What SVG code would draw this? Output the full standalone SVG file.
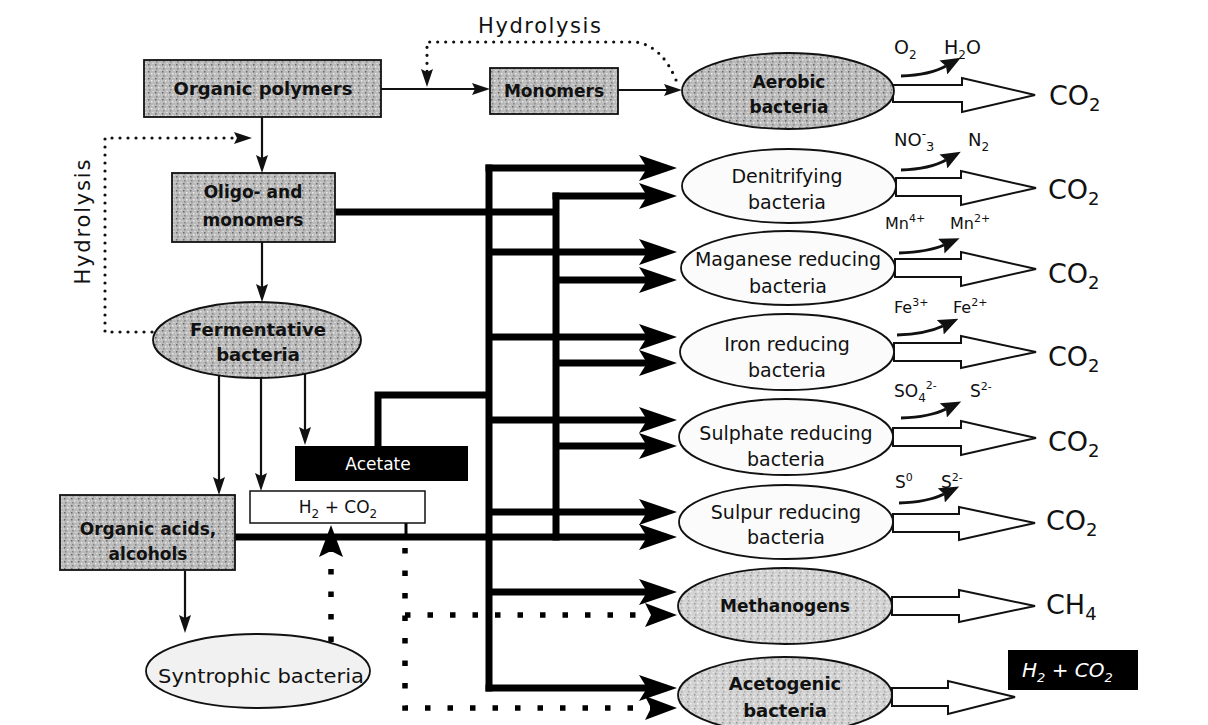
<svg xmlns="http://www.w3.org/2000/svg" width="1208" height="725" viewBox="0 0 1208 725">
<style>
text{font-family:"DejaVu Sans","Liberation Sans",sans-serif;fill:#111}
.b{font-weight:bold}
.c{text-anchor:middle}
.node{stroke:#111;stroke-width:1.8}
.thin{fill:none;stroke:#111;stroke-width:2.2}
.bus{fill:none;stroke:#000;stroke-width:7}
.busv{fill:none;stroke:#000;stroke-width:7;stroke-linecap:square}
.dots{fill:none;stroke:#111;stroke-width:3.2;stroke-linecap:round;stroke-dasharray:0 8}
.sq{fill:none;stroke:#000;stroke-width:5.5;stroke-dasharray:5.5 17}
.hollow{fill:#fff;stroke:#111;stroke-width:2}
.curl{fill:none;stroke:#111;stroke-width:3}
</style>
<defs>
<pattern id="gD" width="7" height="7" patternUnits="userSpaceOnUse">
<rect width="7" height="7" fill="#bababa"/>
<rect x="1" y="1" width="1.5" height="1.5" fill="#6a6a6a"/>
<rect x="4" y="3" width="1.5" height="1.5" fill="#ededed"/>
<rect x="2" y="5" width="1.5" height="1.5" fill="#858585"/>
<rect x="5.5" y="0" width="1" height="1" fill="#f4f4f4"/>
<rect x="0" y="3.5" width="1" height="1" fill="#e0e0e0"/>
</pattern>
<pattern id="gL" width="7" height="7" patternUnits="userSpaceOnUse">
<rect width="7" height="7" fill="#d2d2d2"/>
<rect x="1" y="1" width="1.5" height="1.5" fill="#969696"/>
<rect x="4" y="3" width="1.5" height="1.5" fill="#f4f4f4"/>
<rect x="2" y="5" width="1.5" height="1.5" fill="#adadad"/>
<rect x="5.5" y="0" width="1" height="1" fill="#fafafa"/>
</pattern>
<marker id="ah" viewBox="0 0 18 12" refX="3" refY="6" markerWidth="18" markerHeight="12" markerUnits="userSpaceOnUse" orient="auto"><path d="M0,0 L18,6 L0,12 L3,6 z" fill="#111"/></marker>
<marker id="big" viewBox="0 0 38 26" refX="8" refY="13" markerWidth="38" markerHeight="26" markerUnits="userSpaceOnUse" orient="auto"><path d="M0,0 L38,13 L0,26 L8,13 z" fill="#000"/></marker>
<marker id="dh" viewBox="0 0 32 24" refX="6" refY="12" markerWidth="32" markerHeight="24" markerUnits="userSpaceOnUse" orient="auto"><path d="M0,0 L32,12 L0,24 L6,12 z" fill="#000"/></marker>
<marker id="ch" viewBox="0 0 20 16" refX="3" refY="8" markerWidth="20" markerHeight="16" markerUnits="userSpaceOnUse" orient="auto"><path d="M0,0 L20,8 L0,16 L3,8 z" fill="#111"/></marker>
</defs>
<rect width="1208" height="725" fill="#fff"/>

<g id="connectors">
<path class="thin" d="M381,89 H475" marker-end="url(#ah)"/>
<path class="thin" d="M618,90 H667" marker-end="url(#ah)"/>
<path class="thin" d="M262,117 V158" marker-end="url(#ah)"/>
<path class="thin" d="M262,242 V287" marker-end="url(#ah)"/>
<path class="thin" d="M219,376 V480" marker-end="url(#ah)"/>
<path class="thin" d="M261,378 V476" marker-end="url(#ah)"/>
<path class="thin" d="M305,373 V430" marker-end="url(#ah)"/>
<path class="thin" d="M185,571 V618" marker-end="url(#ah)"/>
<path class="dots" d="M676,80 Q662,46 636,42 H427 V72" marker-end="url(#ah)"/>
<path class="dots" d="M152,332 H105 V138 H237" marker-end="url(#ah)"/>
<path class="bus" d="M335,212 H556"/>
<path class="busv" d="M489,168 V688"/>
<path class="busv" d="M556,196 V537"/>
<path class="bus" d="M378,447 V395 H489" stroke-linejoin="miter"/>
<path class="bus" d="M485.5,168 H647" marker-end="url(#big)"/>
<path class="bus" d="M489,252 H647" marker-end="url(#big)"/>
<path class="bus" d="M489,337 H647" marker-end="url(#big)"/>
<path class="bus" d="M489,420 H647" marker-end="url(#big)"/>
<path class="bus" d="M489,512 H647" marker-end="url(#big)"/>
<path class="bus" d="M489,592 H647" marker-end="url(#big)"/>
<path class="bus" d="M485.5,688 H647" marker-end="url(#big)"/>
<path class="bus" d="M552.5,196 H647" marker-end="url(#big)"/>
<path class="bus" d="M556,280 H647" marker-end="url(#big)"/>
<path class="bus" d="M556,363 H647" marker-end="url(#big)"/>
<path class="bus" d="M556,446 H647" marker-end="url(#big)"/>
<path class="bus" d="M234,537 H647" marker-end="url(#big)"/>
<path fill="none" stroke="#000" stroke-width="3" d="M406,523 V537"/>
<path class="sq" d="M405,548 V708 H651" marker-end="url(#dh)"/>
<path class="sq" d="M405,615 H651" marker-end="url(#dh)"/>
<path class="sq" d="M331,642 V551" marker-end="url(#dh)"/>
<polygon class="hollow" points="893,85 962,85 962,78 1035,95 962,112 962,102 893,102"/>
<polygon class="hollow" points="896,178 961,178 961,171 1036,188 961,205 961,196 896,196"/>
<polygon class="hollow" points="895,259 961,259 961,252 1036,269 961,286 961,277 895,277"/>
<polygon class="hollow" points="894,343 961,343 961,336 1036,352 961,368 961,361 894,361"/>
<polygon class="hollow" points="893,428 961,428 961,421 1036,438 961,455 961,446 893,446"/>
<polygon class="hollow" points="893,514 959,514 959,507 1035,523 959,540 959,532 893,532"/>
<polygon class="hollow" points="892,597 959,597 959,590 1035,606 959,622 959,615 892,615"/>
<polygon class="hollow" points="892,688 948,688 948,681 1015,697 948,714 948,706 892,706"/>
<path class="curl" d="M901,76 Q930,75 946,66" marker-end="url(#ch)"/>
<path class="curl" d="M901,170 Q930,169 946,160" marker-end="url(#ch)"/>
<path class="curl" d="M899,253 Q928,252 944,245" marker-end="url(#ch)"/>
<path class="curl" d="M897,335 Q926,334 943,326" marker-end="url(#ch)"/>
<path class="curl" d="M901,418 Q930,417 946,409" marker-end="url(#ch)"/>
<path class="curl" d="M899,503 Q928,502 944,494" marker-end="url(#ch)"/>
</g>

<g id="hydrolysis-top"><text x="478" y="33" font-size="21" textLength="123" lengthAdjust="spacing">Hydrolysis</text></g>
<g id="hydrolysis-left"><text transform="translate(90,222) rotate(-90)" class="c" font-size="21" textLength="125" lengthAdjust="spacing">Hydrolysis</text></g>

<g id="organic-polymers">
<rect class="node" x="144" y="60" width="237" height="57" fill="url(#gD)"/>
<text class="b c" x="263" y="95" font-size="18">Organic polymers</text>
</g>
<g id="monomers">
<rect class="node" x="490" y="68" width="128" height="46" fill="url(#gD)"/>
<text class="b c" x="554" y="97" font-size="17">Monomers</text>
</g>
<g id="oligo">
<rect class="node" x="172" y="173" width="163" height="69" fill="url(#gD)"/>
<text class="b c" x="253" y="198" font-size="17">Oligo- and</text>
<text class="b c" x="253" y="226" font-size="17">monomers</text>
</g>
<g id="fermentative">
<ellipse class="node" cx="257" cy="340" rx="104" ry="38" fill="url(#gD)"/>
<text class="b c" x="258" y="336" font-size="18">Fermentative</text>
<text class="b c" x="258" y="361" font-size="18">bacteria</text>
</g>
<g id="acetate">
<rect x="295" y="446" width="173" height="35" fill="#000"/>
<text class="c" x="378" y="470" font-size="17" style="fill:#fff">Acetate</text>
</g>
<g id="h2co2">
<rect x="250" y="491" width="175" height="32" fill="#fff" stroke="#111" stroke-width="1.5"/>
<text class="c" x="338" y="513" font-size="17">H<tspan font-size="12" dy="5">2</tspan><tspan dy="-5"> + CO</tspan><tspan font-size="12" dy="5">2</tspan></text>
</g>
<g id="organic-acids">
<rect class="node" x="60" y="495" width="175" height="75" fill="url(#gD)"/>
<text class="b c" x="148" y="535" font-size="17">Organic acids,</text>
<text class="b c" x="148" y="560" font-size="17">alcohols</text>
</g>
<g id="syntrophic">
<ellipse class="node" cx="258" cy="671" rx="112" ry="37" fill="#f1f1f1"/>
<text class="c" x="261" y="683" font-size="20" textLength="206" lengthAdjust="spacingAndGlyphs">Syntrophic bacteria</text>
</g>

<g id="aerobic">
<ellipse class="node" cx="788" cy="91" rx="106" ry="38" fill="url(#gD)"/>
<text class="b c" x="789" y="88" font-size="17">Aerobic</text>
<text class="b c" x="789" y="113" font-size="17">bacteria</text>
</g>
<g id="denitrifying">
<ellipse class="node" cx="789" cy="186" rx="107" ry="37" fill="#fbfbfb"/>
<text class="c" x="787" y="183" font-size="19">Denitrifying</text>
<text class="c" x="787" y="209" font-size="19">bacteria</text>
</g>
<g id="manganese">
<ellipse class="node" cx="788" cy="268" rx="107" ry="37" fill="#fbfbfb"/>
<text class="c" x="788" y="266" font-size="19">Maganese reducing</text>
<text class="c" x="788" y="293" font-size="19">bacteria</text>
</g>
<g id="iron">
<ellipse class="node" cx="787" cy="352" rx="107" ry="38" fill="#fbfbfb"/>
<text class="c" x="787" y="351" font-size="19">Iron reducing</text>
<text class="c" x="787" y="377" font-size="19">bacteria</text>
</g>
<g id="sulphate">
<ellipse class="node" cx="786" cy="437" rx="107" ry="38" fill="#fbfbfb"/>
<text class="c" x="786" y="440" font-size="19">Sulphate reducing</text>
<text class="c" x="786" y="466" font-size="19">bacteria</text>
</g>
<g id="sulphur">
<ellipse class="node" cx="786" cy="522" rx="107" ry="37" fill="#fbfbfb"/>
<text class="c" x="786" y="519" font-size="19">Sulpur reducing</text>
<text class="c" x="786" y="544" font-size="19">bacteria</text>
</g>
<g id="methanogens">
<ellipse class="node" cx="785" cy="606" rx="107" ry="38" fill="url(#gL)"/>
<text class="b c" x="785" y="612" font-size="17">Methanogens</text>
</g>
<g id="acetogenic">
<ellipse class="node" cx="785" cy="695" rx="107" ry="38" fill="url(#gL)"/>
<text class="b c" x="785" y="690" font-size="18">Acetogenic</text>
<text class="b c" x="785" y="717" font-size="18">bacteria</text>
</g>

<g id="labels">
<text x="894" y="54" font-size="19">O<tspan font-size="12" dy="5">2</tspan></text>
<text x="944" y="54" font-size="19">H<tspan font-size="12" dy="5">2</tspan><tspan dy="-5">O</tspan></text>
<text x="894" y="146" font-size="18">NO<tspan font-size="12" dy="-8">-</tspan><tspan font-size="13" dy="13">3</tspan></text>
<text x="968" y="146" font-size="18">N<tspan font-size="12" dy="5">2</tspan></text>
<text x="885" y="229" font-size="16">Mn<tspan font-size="11" dy="-7">4+</tspan></text>
<text x="950" y="229" font-size="16">Mn<tspan font-size="11" dy="-7">2+</tspan></text>
<text x="894" y="313" font-size="16">Fe<tspan font-size="11" dy="-7">3+</tspan></text>
<text x="953" y="313" font-size="16">Fe<tspan font-size="11" dy="-7">2+</tspan></text>
<text x="894" y="397" font-size="17">SO<tspan font-size="12" dy="5">4</tspan><tspan font-size="11" dy="-13">2-</tspan></text>
<text x="970" y="397" font-size="17">S<tspan font-size="11" dy="-7">2-</tspan></text>
<text x="895" y="488" font-size="17">S<tspan font-size="11" dy="-7">0</tspan></text>
<text x="941" y="488" font-size="17">S<tspan font-size="11" dy="-7">2-</tspan></text>
</g>
<g id="products">
<text x="1049" y="105" font-size="27">CO<tspan font-size="18" dy="6">2</tspan></text>
<text x="1048" y="199" font-size="27">CO<tspan font-size="18" dy="6">2</tspan></text>
<text x="1048" y="283" font-size="27">CO<tspan font-size="18" dy="6">2</tspan></text>
<text x="1048" y="366" font-size="27">CO<tspan font-size="18" dy="6">2</tspan></text>
<text x="1048" y="451" font-size="27">CO<tspan font-size="18" dy="6">2</tspan></text>
<text x="1046" y="530" font-size="27">CO<tspan font-size="18" dy="6">2</tspan></text>
<text x="1046" y="614" font-size="27">CH<tspan font-size="18" dy="6">4</tspan></text>
</g>
<g id="h2co2-out">
<rect x="1008" y="650" width="130" height="40" fill="#000"/>
<text x="1022" y="677" font-size="20" font-style="italic" style="fill:#fff">H<tspan font-size="13" dy="5">2</tspan><tspan dy="-5"> + CO</tspan><tspan font-size="13" dy="5">2</tspan></text>
</g>
</svg>
